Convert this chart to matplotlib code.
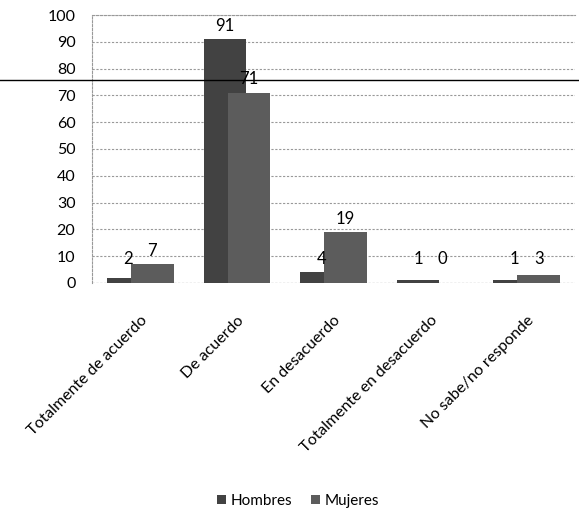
import matplotlib
matplotlib.use("Agg")
import matplotlib.pyplot as plt
import numpy as np
from matplotlib.lines import Line2D

plt.rcParams['font.family'] = ['Lato', 'DejaVu Sans']

categories = ["Totalmente de acuerdo", "De acuerdo", "En desacuerdo",
              "Totalmente en desacuerdo", "No sabe/no responde"]
hombres = [2, 91, 4, 1, 1]
mujeres = [7, 71, 19, 0, 3]
yticks = list(range(0, 101, 10))

fig = plt.figure(figsize=(5.79, 5.2), dpi=100)
ax = fig.add_axes([0.159, 0.456, 0.834, 0.515])

x = np.arange(len(categories))
w = 0.44
off = 0.125
b1 = ax.bar(x - off, hombres, w, color="#424242", zorder=2, label="Hombres")
b2 = ax.bar(x + off, mujeres, w, color="#5c5c5c", zorder=3, label="Mujeres")

for xi, v in zip(x - off, hombres):
    ax.text(xi, max(v + 2, 6), str(v), ha="center", va="bottom", fontsize=12, zorder=4)
for xi, v in zip(x + off, mujeres):
    ax.text(xi, max(v + 2, 6), str(v), ha="center", va="bottom", fontsize=12, zorder=4)

ax.set_ylim(0, 100)
ax.set_xlim(-0.5, len(categories) - 0.5)
ax.set_yticks(yticks)
ax.set_yticklabels([str(t) for t in yticks], fontsize=11.5)
ax.yaxis.grid(True, linestyle=(0, (2, 1.5)), color="#999999", linewidth=0.8, zorder=0)
ax.set_axisbelow(True)
ax.tick_params(axis="both", length=0)
ax.tick_params(axis="y", pad=12)
ax.set_xticks(x)
ax.set_xticklabels(categories, rotation=45, ha="right", rotation_mode="anchor", fontsize=11.5)
ax.tick_params(axis="x", pad=22)
for s in ["right", "bottom"]:
    ax.spines[s].set_visible(False)
ax.spines["left"].set_linestyle((0, (2, 1.5)))
ax.spines["left"].set_color("#999999")
ax.spines["top"].set_linestyle((0, (2, 1.5)))
ax.spines["top"].set_color("#999999")
ax.axhline(0, color="#666666", linewidth=0.8, linestyle=(0, (2, 1.5)), zorder=1)

fig.add_artist(Line2D([0, 1], [1 - 80 / 520, 1 - 80 / 520], color="black",
                      linewidth=1.0, transform=fig.transFigure))

fig.legend(handles=[b1, b2], labels=["Hombres", "Mujeres"], loc="center",
           bbox_to_anchor=(0.515, 1 - 501 / 520), ncol=2, frameon=False,
           fontsize=11, handlelength=0.6, handleheight=0.6, handletextpad=0.3,
           columnspacing=1.2)

fig.savefig("out.png", dpi=100)
